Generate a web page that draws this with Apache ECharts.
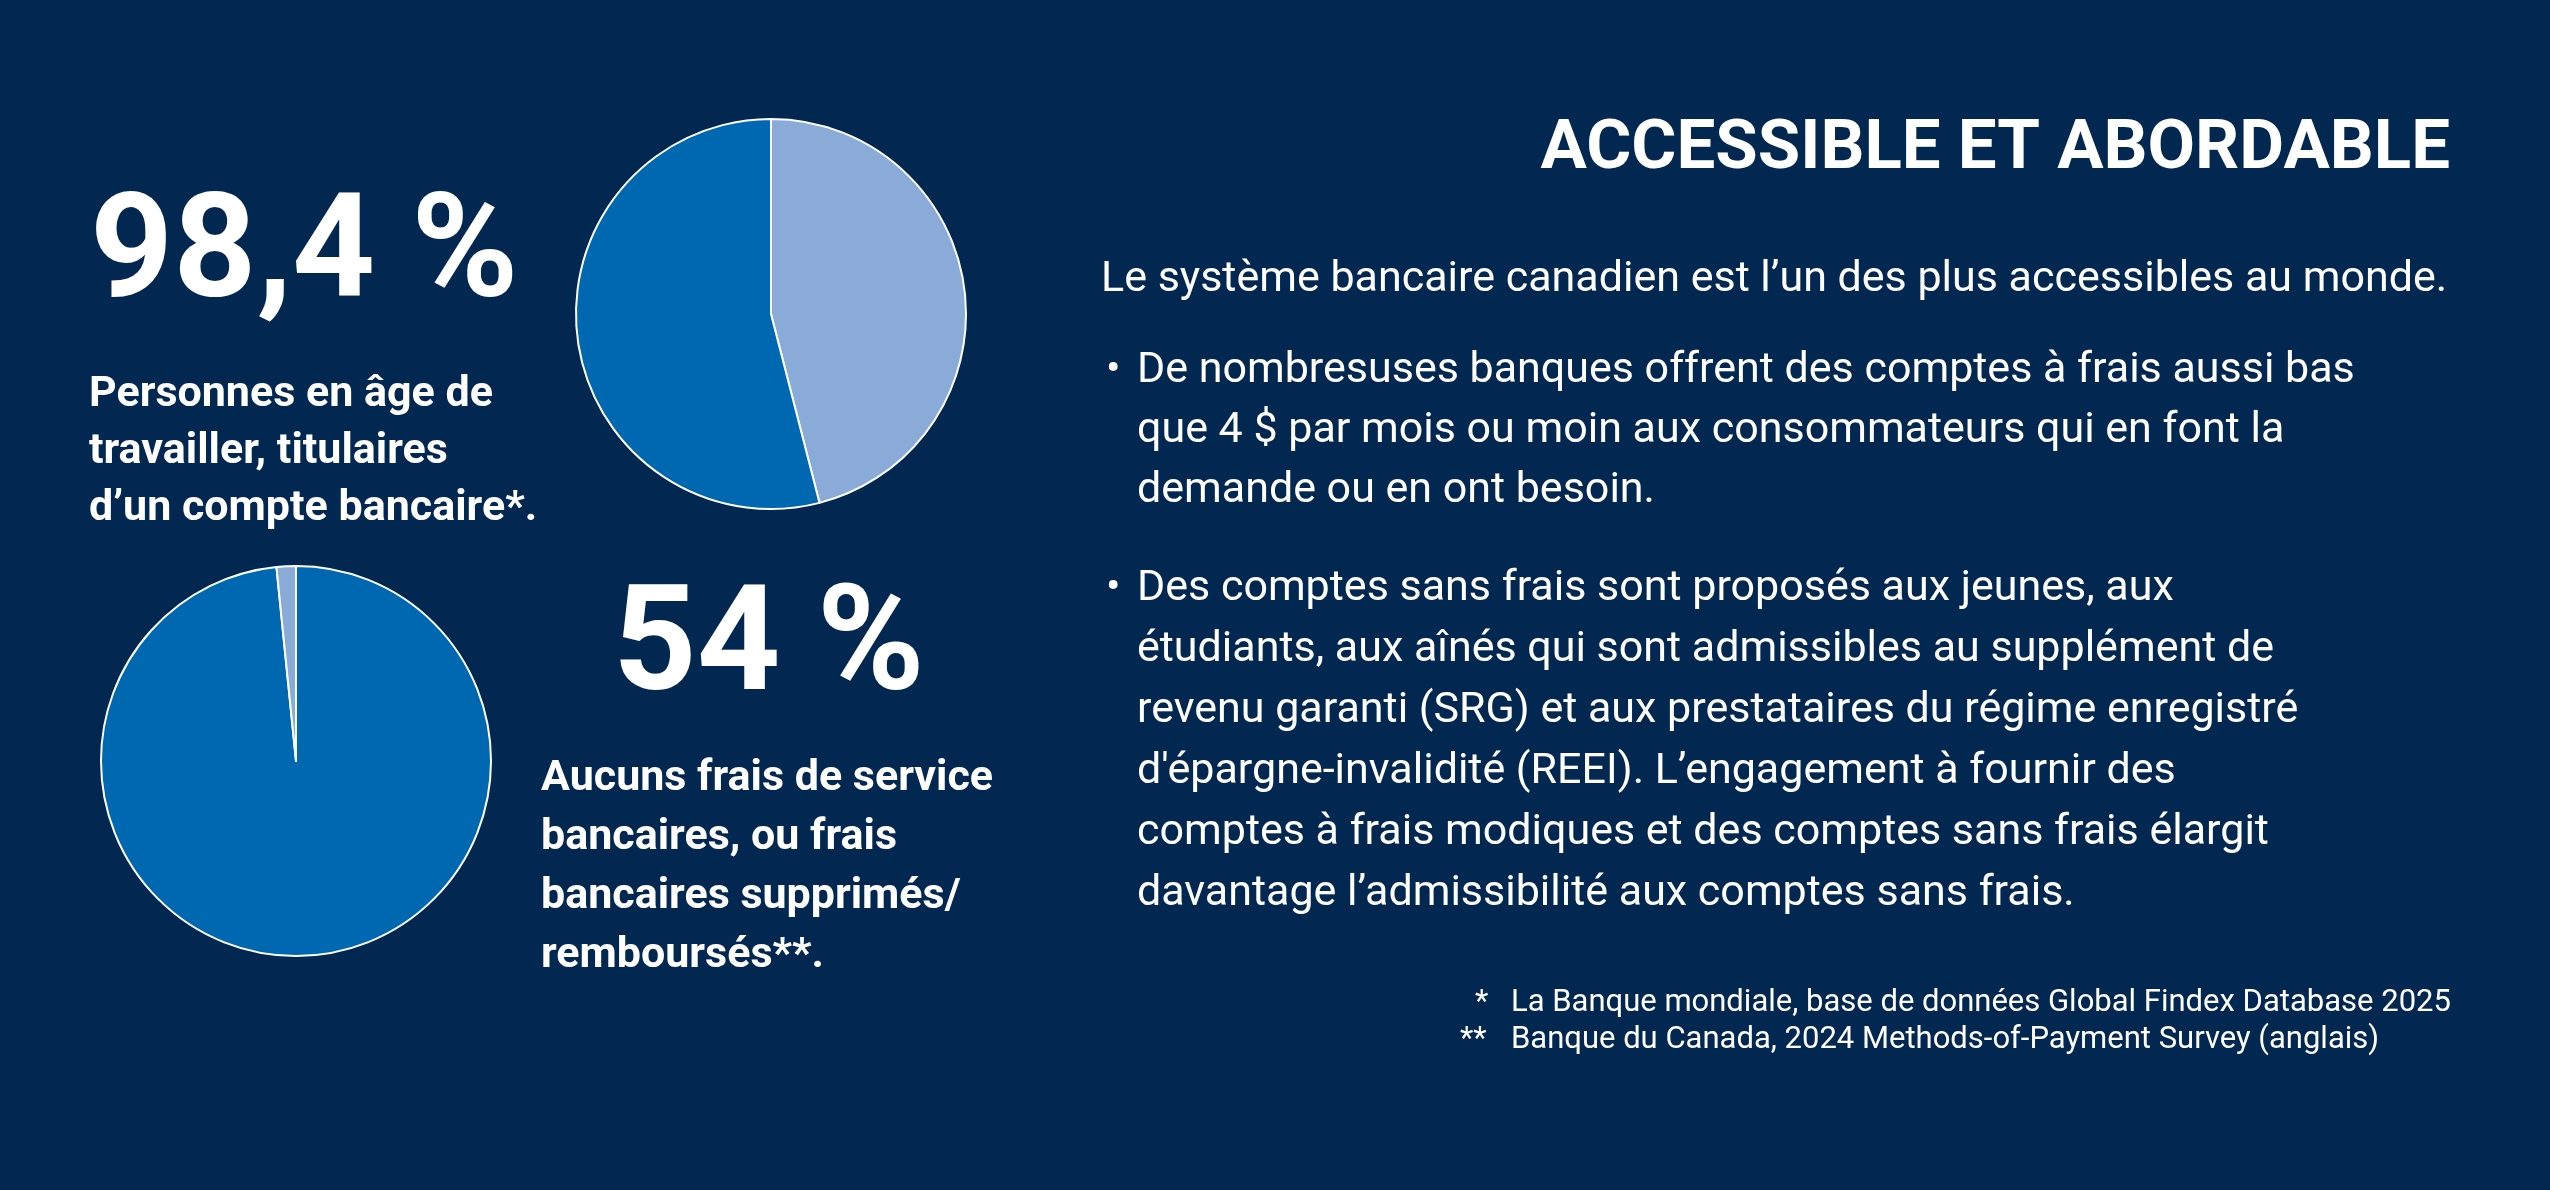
<!DOCTYPE html>
<html><head><meta charset="utf-8">
<script src="https://cdn.jsdelivr.net/npm/echarts@6/dist/echarts.min.js"></script>
<style>html,body{margin:0;background:#022851}#c{width:2550px;height:1190px}</style>
</head><body><div id="c"></div>
<script>
// data
var pieTopNames = ['Autre', 'Aucuns frais'];
var pieTopValues = [46, 54];
var pieBottomNames = ['Titulaires', 'Non titulaires'];
var pieBottomValues = [98.4, 1.6];
var bulletOne = ['De nombresuses banques offrent des comptes à frais aussi bas',
  'que 4 $ par mois ou moin aux consommateurs qui en font la',
  'demande ou en ont besoin.'];
var bulletTwo = ['Des comptes sans frais sont proposés aux jeunes, aux',
  'étudiants, aux aînés qui sont admissibles au supplément de',
  'revenu garanti (SRG) et aux prestataires du régime enregistré',
  "d'épargne-invalidité (REEI). L’engagement à fournir des",
  'comptes à frais modiques et des comptes sans frais élargit',
  'davantage l’admissibilité aux comptes sans frais.'];

var DARK = '#0067b1', LIGHT = '#8aaad8', FONT = 'Roboto';
var chart = echarts.init(document.getElementById('c'));

function txt(x, y, s, size, weight, align) {
  return { type: 'text', x: x, y: y, style: {
    text: s, fill: '#fff', font: (weight || 'normal') + ' ' + size + 'px ' + FONT,
    textAlign: align || 'left', textVerticalAlign: 'middle' } };
}
function lines(x, y0, step, arr, size, weight) {
  return arr.map(function (s, i) { return txt(x, y0 + i * step, s, size, weight); });
}
function pieSeries(center, names, values, colors) {
  return {
    type: 'pie', center: center, radius: 195, startAngle: 90, clockwise: true,
    label: { show: false }, labelLine: { show: false }, silent: true,
    itemStyle: { borderColor: '#fff', borderWidth: 2 },
    data: values.map(function (v, i) {
      return { value: v, name: names[i], itemStyle: { color: colors[i] } };
    })
  };
}

var g = [
  txt(90, 260, '98,4 %', 145, 'bold'),
  txt(613, 652, '54 %', 146, 'bold'),
  txt(2450, 151, 'ACCESSIBLE ET ABORDABLE', 69, 'bold', 'right'),
  txt(1101, 280, 'Le système bancaire canadien est l’un des plus accessibles au monde.', 43),
  txt(1106, 371, '•', 43),
  txt(1106, 589, '•', 43),
  txt(1475, 1003, '*', 31),
  txt(1460, 1040, '**', 31),
  txt(1511, 1003, 'La Banque mondiale, base de données Global Findex Database 2025', 31),
  txt(1511, 1040, 'Banque du Canada, 2024 Methods-of-Payment Survey (anglais)', 31)
].concat(
  lines(89, 395, 57, ['Personnes en âge de', 'travailler, titulaires', 'd’un compte bancaire*.'], 43, 'bold'),
  lines(541, 779, 59, ['Aucuns frais de service', 'bancaires, ou frais', 'bancaires supprimés/', 'remboursés**.'], 43, 'bold'),
  lines(1137, 371, 60, bulletOne, 43),
  lines(1137, 589, 61, bulletTwo, 43)
);

chart.setOption({
  backgroundColor: '#022851',
  animation: false,
  series: [
    pieSeries([771, 314], pieTopNames, pieTopValues, [LIGHT, DARK]),
    pieSeries([296, 761], pieBottomNames, pieBottomValues, [DARK, LIGHT])
  ],
  graphic: g
});
</script></body></html>
